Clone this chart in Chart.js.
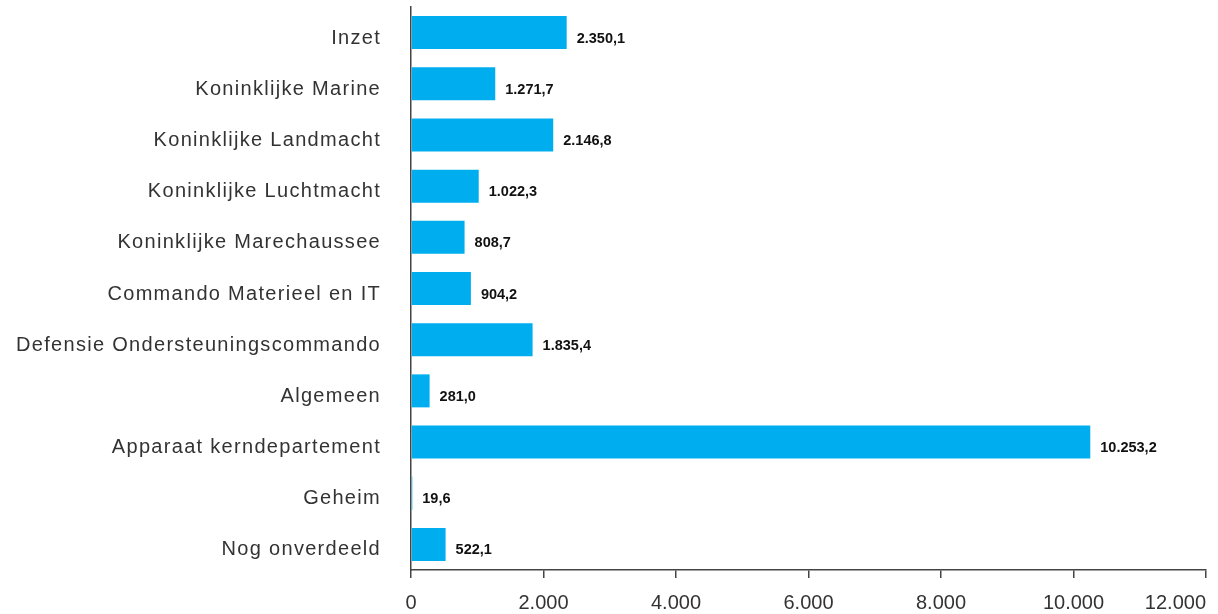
<!DOCTYPE html>
<html>
<head>
<meta charset="utf-8">
<script src="https://cdn.jsdelivr.net/npm/chart.js@4.4.1/dist/chart.umd.min.js"></script>
<style>
  html, body { margin: 0; padding: 0; background: #ffffff; }
  #wrap { width: 1218px; height: 614px; position: relative; }
</style>
</head>
<body>
<div id="wrap"><canvas id="c" width="1218" height="614"></canvas></div>
<script>
const categories = [
  "Inzet",
  "Koninklijke Marine",
  "Koninklijke Landmacht",
  "Koninklijke Luchtmacht",
  "Koninklijke Marechaussee",
  "Commando Materieel en IT",
  "Defensie Ondersteuningscommando",
  "Algemeen",
  "Apparaat kerndepartement",
  "Geheim",
  "Nog onverdeeld"
];
const values = [2350.1, 1271.7, 2146.8, 1022.3, 808.7, 904.2, 1835.4, 281.0, 10253.2, 19.6, 522.1];
const xTicks = [0, 2000, 4000, 6000, 8000, 10000, 12000];

function thousands(s) { return s.replace(/\B(?=(\d{3})+(?!\d))/g, '.'); }
function fmtValue(v) {
  const parts = v.toFixed(1).split('.');
  return thousands(parts[0]) + ',' + parts[1];
}

class SpacedCategoryScale extends Chart.CategoryScale {
  drawLabels(chartArea) {
    const ctx = this.ctx;
    ctx.save();
    ctx.letterSpacing = '1.3px';
    super.drawLabels(chartArea);
    ctx.restore();
  }
}
SpacedCategoryScale.id = 'spacedCategory';
SpacedCategoryScale.defaults = Chart.CategoryScale.defaults;
Chart.register(SpacedCategoryScale);

class EndAlignedLinearScale extends Chart.LinearScale {
  _computeLabelItems(chartArea) {
    const items = super._computeLabelItems(chartArea);
    if (items.length) {
      const last = items[items.length - 1];
      last.options = Object.assign({}, last.options, { textAlign: 'right' });
    }
    return items;
  }
}
EndAlignedLinearScale.id = 'endAlignedLinear';
EndAlignedLinearScale.defaults = Chart.LinearScale.defaults;
Chart.register(EndAlignedLinearScale);

const valueLabels = {
  id: 'valueLabels',
  afterDatasetsDraw(chart) {
    const ctx = chart.ctx;
    const meta = chart.getDatasetMeta(0);
    ctx.save();
    ctx.font = 'bold 14.5px "Liberation Sans", Arial, sans-serif';
    ctx.fillStyle = '#111111';
    ctx.textAlign = 'left';
    ctx.textBaseline = 'middle';
    meta.data.forEach((bar, i) => {
      ctx.fillText(fmtValue(values[i]), bar.x + 10, bar.y + 6);
    });
    ctx.restore();
  }
};

new Chart(document.getElementById('c'), {
  type: 'bar',
  data: {
    labels: categories,
    datasets: [{
      data: values,
      backgroundColor: '#00AEEF',
      borderWidth: 0,
      categoryPercentage: 1.0,
      barPercentage: 0.645
    }]
  },
  options: {
    indexAxis: 'y',
    responsive: false,
    animation: false,
    devicePixelRatio: 1,
    layout: { padding: { left: 0, right: 12, top: 7, bottom: 0 } },
    plugins: { legend: { display: false }, tooltip: { enabled: false } },
    scales: {
      x: {
        type: 'endAlignedLinear',
        min: 0,
        max: 12000,
        afterBuildTicks(scale) { scale.ticks = xTicks.map(v => ({ value: v })); },
        afterFit(scale) { scale.height = 44; scale.paddingLeft = 0; scale.paddingRight = 0; },
        border: { display: true, color: '#444444', width: 1.5 },
        grid: { display: true, drawOnChartArea: false, drawTicks: true, tickLength: 8, color: '#444444', lineWidth: 1.5 },
        ticks: {
          padding: 13,
          color: '#333333',
          font: { family: '"Liberation Sans", Arial, sans-serif', size: 20 },
          callback: (v) => thousands(String(v)),
          maxRotation: 0
        }
      },
      y: {
        type: 'spacedCategory',
        afterFit(scale) { scale.width = 411; scale.paddingTop = 0; scale.paddingBottom = 0; },
        border: { display: true, color: '#444444', width: 1.5 },
        grid: { display: false, drawTicks: false },
        ticks: {
          padding: 30,
          labelOffset: 5.5,
          color: '#333333',
          font: { family: '"Liberation Sans", Arial, sans-serif', size: 20 }
        }
      }
    }
  },
  plugins: [valueLabels]
});
</script>
</body>
</html>
